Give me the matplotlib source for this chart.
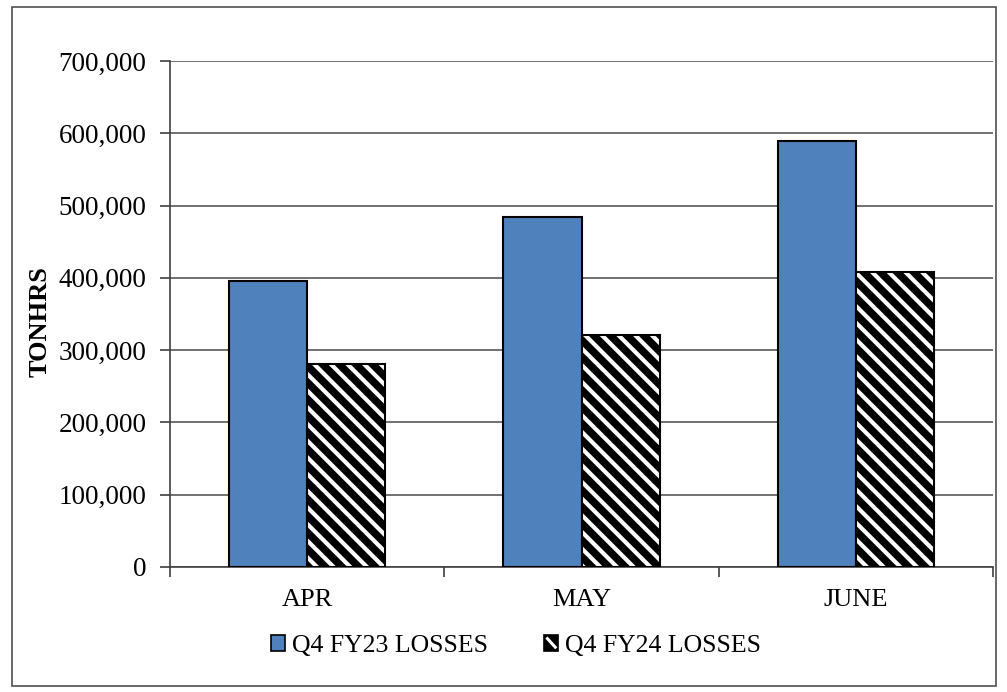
import numpy as np
import matplotlib.pyplot as plt
from matplotlib.patches import Patch, Rectangle
from matplotlib.lines import Line2D
from matplotlib.legend_handler import HandlerBase

months = ["APR", "MAY", "JUNE"]
fy23_losses = [396000, 484000, 589000]
fy24_losses = [281000, 321000, 408000]
series_names = ["Q4 FY23 LOSSES", "Q4 FY24 LOSSES"]

plt.rcParams["font.family"] = ["Liberation Serif", "DejaVu Serif"]
plt.rcParams["hatch.linewidth"] = 3.0


class StripedSquare(HandlerBase):
    # small black square with one white diagonal, like the hatch at legend scale
    def create_artists(self, legend, orig_handle, xdescent, ydescent,
                       width, height, fontsize, trans):
        x0, y0 = -xdescent, -ydescent
        sq = Rectangle((x0, y0), width, height, facecolor="black",
                       edgecolor="black", linewidth=1.2, transform=trans)
        ln = Line2D([x0 + 0.15 * width, x0 + 0.85 * width],
                    [y0 + 0.85 * height, y0 + 0.15 * height],
                    color="white", linewidth=2.2, solid_capstyle="butt",
                    transform=trans)
        return [sq, ln]


W, H, DPI = 1007, 692, 100
fig = plt.figure(figsize=(W / DPI, H / DPI), dpi=DPI)
ax = fig.add_axes([170 / W, 1 - 567 / H, (993 - 170) / W, (567 - 61) / H])

blue = "#4F81BD"
x = np.arange(len(months))
w = 0.285

ax.bar(x - w / 2, fy23_losses, w, color=blue, edgecolor="black", linewidth=1.5, zorder=3)
# hatched series: black fill with white stripes, then a black outline on top
ax.bar(x + w / 2, fy24_losses, w, color="black", edgecolor="white", hatch="\\\\",
       linewidth=0, zorder=3)
ax.bar(x + w / 2, fy24_losses, w, fill=False, edgecolor="black", linewidth=1.5, zorder=4)

ax.set_xlim(-0.5, len(months) - 0.5)
ax.set_ylim(0, 700000)
ax.set_yticks(np.arange(0, 700001, 100000))
ax.set_yticklabels([f"{v:,}" for v in range(0, 700001, 100000)], fontsize=19.5)
ax.set_xticks(x)
ax.set_xticklabels(months, fontsize=19)
ax.set_xticks(np.arange(-0.5, len(months), 1), minor=True)
ax.tick_params(axis="x", which="major", length=0, pad=16)
ax.tick_params(axis="x", which="minor", length=7, width=1.2, color="#404040")
ax.tick_params(axis="y", length=7, width=1.2, color="#404040", pad=10)

ax.grid(axis="y", color="#666666", linewidth=1.3, zorder=0)
ax.set_axisbelow(True)
for side in ("top", "right"):
    ax.spines[side].set_visible(False)
for side in ("left", "bottom"):
    ax.spines[side].set_color("#404040")
    ax.spines[side].set_linewidth(1.2)

fig.text(40 / W, 1 - 322 / H, "TONHRS", rotation=90, fontsize=19, fontweight="bold",
         ha="center", va="center")

h1 = Patch(facecolor=blue, edgecolor="black", linewidth=1.2)
h2 = Patch(facecolor="black")
fig.legend([h1, h2], series_names, loc="center", bbox_to_anchor=(516 / W, 1 - 646 / H),
           ncol=2, frameon=False, fontsize=18.5, handlelength=0.55, handleheight=0.55,
           handletextpad=0.25, columnspacing=2.2,
           handler_map={h2: StripedSquare()})

fig.patches.append(Rectangle((12 / W, 1 - 686 / H), (996 - 12) / W, (686 - 7) / H,
                             transform=fig.transFigure, fill=False,
                             edgecolor="#505050", linewidth=1.2))

fig.savefig("out.png", dpi=DPI)
